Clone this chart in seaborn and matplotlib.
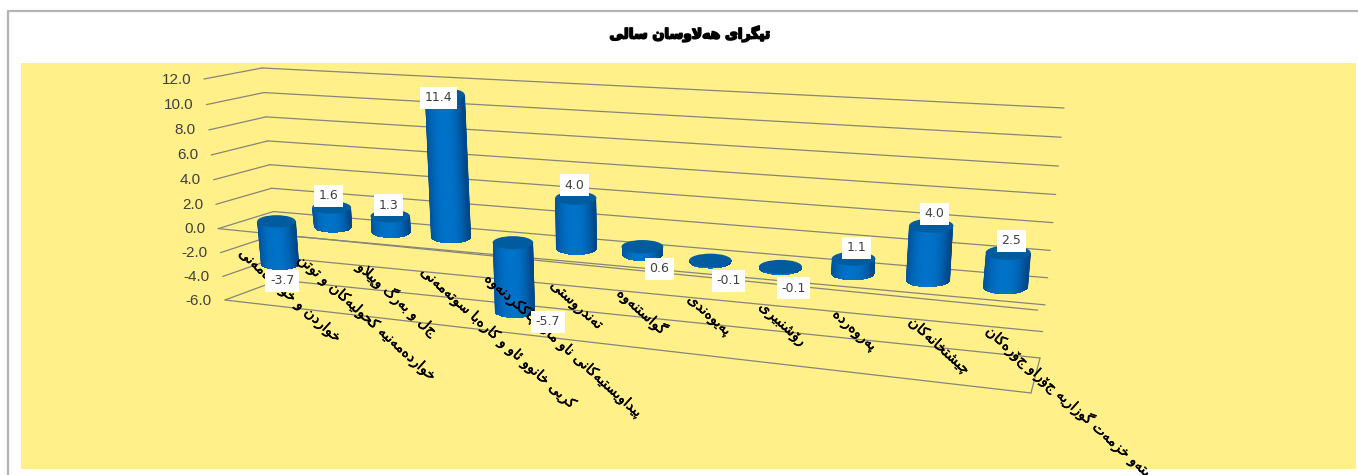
import numpy as np
import matplotlib
matplotlib.use('Agg')
import matplotlib.pyplot as plt
import matplotlib.patheffects as pe
import matplotlib.transforms as mtrans
from matplotlib.colors import LinearSegmentedColormap
from matplotlib.patches import Rectangle, Ellipse, Polygon
import seaborn as sns

categories = ['خواردن و خواردەمەنی', 'خواردەمەنیە کحولیەکان و توتن', 'جل و بەرگ وپێڵاو',
              'کرێی خانوو ئاو و کارەبا سوتەمەنی', 'پێداویستیەکانی ناو ماڵ چاککردنەوە', 'تەندروستی',
              'گواستنەوە', 'پەیوەندی', 'ڕۆشنبیری', 'پەروەردە', 'چێشتخانەکان',
              'بەستەو خزمەت گوزاریە جۆراو جۆرەکان']
values = [-3.7, 1.6, 1.3, 11.4, -5.7, 4.0, 0.6, -0.1, -0.1, 1.1, 4.0, 2.5]
ticks = [12, 10, 8, 6, 4, 2, 0, -2, -4, -6]
title = 'تێگرای هەڵاوسان ساڵی'

# ---- small arabic shaper, matplotlib does not join letters itself
# letter: (isolated, final, initial, medial), two forms only = right joining
FORMS = {
    'ا': (0xFE8D, 0xFE8E), 'د': (0xFEA9, 0xFEAA), 'ر': (0xFEAD, 0xFEAE), 'ڕ': (0xFEAD, 0xFEAE),
    'ز': (0xFEAF, 0xFEB0), 'ژ': (0xFB8A, 0xFB8B), 'و': (0xFEED, 0xFEEE), 'ۆ': (0xFBD9, 0xFBDA),
    'ە': (0xFEE9, 0xFEEA),
    'ئ': (0xFE89, 0xFE8A, 0xFE8B, 0xFE8C), 'ب': (0xFE8F, 0xFE90, 0xFE91, 0xFE92),
    'پ': (0xFB56, 0xFB57, 0xFB58, 0xFB59), 'ت': (0xFE95, 0xFE96, 0xFE97, 0xFE98),
    'چ': (0xFB7A, 0xFB7B, 0xFB7C, 0xFB7D), 'ح': (0xFEA1, 0xFEA2, 0xFEA3, 0xFEA4),
    'خ': (0xFEA5, 0xFEA6, 0xFEA7, 0xFEA8), 'س': (0xFEB1, 0xFEB2, 0xFEB3, 0xFEB4),
    'ش': (0xFEB5, 0xFEB6, 0xFEB7, 0xFEB8), 'ک': (0xFB8E, 0xFB8F, 0xFB90, 0xFB91),
    'گ': (0xFB92, 0xFB93, 0xFB94, 0xFB95), 'ل': (0xFEDD, 0xFEDE, 0xFEDF, 0xFEE0),
    'ڵ': (0xFEDD, 0xFEDE, 0xFEDF, 0xFEE0), 'م': (0xFEE1, 0xFEE2, 0xFEE3, 0xFEE4),
    'ن': (0xFEE5, 0xFEE6, 0xFEE7, 0xFEE8), 'ی': (0xFBFC, 0xFBFD, 0xFBFE, 0xFBFF),
    'ێ': (0xFBFC, 0xFBFD, 0xFBFE, 0xFBFF), 'ف': (0xFED1, 0xFED2, 0xFED3, 0xFED4),
    'ه': (0xFEE9, 0xFEEA, 0xFEEB, 0xFEEC),
}


def shape(txt):
    out = []
    k = 0
    while k < len(txt):
        c = txt[k]
        if c not in FORMS:
            out.append(c)
            k += 1
            continue
        f = FORMS[c]
        prev = txt[k - 1] if k > 0 else ' '
        nxt = txt[k + 1] if k < len(txt) - 1 else ' '
        joins_prev = prev in FORMS and len(FORMS[prev]) == 4
        joins_next = len(f) == 4 and nxt in FORMS
        if c in 'لڵ' and nxt == 'ا':
            # lam alef ligature
            out.append(chr(0xFEFC if joins_prev else 0xFEFB))
            k += 2
            continue
        if joins_prev and joins_next:
            out.append(chr(f[3]))
        elif joins_prev:
            out.append(chr(f[1]))
        elif joins_next:
            out.append(chr(f[2]))
        else:
            out.append(chr(f[0]))
        k += 1
    return ''.join(reversed(out))


# ---- perspective
class Persp(mtrans.Transform):
    input_dims = 2
    output_dims = 2

    def __init__(self, corners):
        # corners: pixel points for (x0,vlo) (x1,vlo) (x0,vhi) (x1,vhi)
        super().__init__()
        src = [(-0.5, -6), (11.5, -6), (-0.5, 12), (11.5, 12)]
        a, b = [], []
        for (x, y), (u, v) in zip(src, corners):
            a.append([x, y, 1, 0, 0, 0, -u * x, -u * y])
            a.append([0, 0, 0, x, y, 1, -v * x, -v * y])
            b += [u, v]
        self.h = np.append(np.linalg.solve(np.array(a, float), np.array(b, float)), 1).reshape(3, 3)

    def transform_non_affine(self, values):
        values = np.asarray(values, float)
        p = np.c_[values, np.ones(len(values))] @ self.h.T
        return p[:, :2] / p[:, 2:]

    def xy(self, x, v):
        return self.transform_non_affine([[x, v]])[0]


front = Persp([(225, 300), (1031, 393), (204, 79), (1052, 135)])
back = Persp([(279, 280), (1040, 358), (262, 68), (1064, 108)])
mid = Persp([(255, 287), (1038, 371.5), (236, 76), (1060.4, 119.5)])

sns.set_theme(style='white')
plt.rcParams['font.family'] = ['DejaVu Sans']
fig = plt.figure(figsize=(13.58, 4.75), dpi=100)
ax = fig.add_axes([0, 0, 1, 1])
sns.barplot(x=list(range(len(values))), y=values, color='#0070c0', width=0.5, ax=ax)
ax.set_xlim(-0.5, 11.5)
ax.set_ylim(-6, 12)
ax.set_axis_off()
bars = list(ax.containers[0])

# second axes in picture pixels, y going down, for the cylinders and texts
over = fig.add_axes([0, 0, 1, 1], facecolor='none')
over.set_xlim(0, 1358)
over.set_ylim(475, 0)
over.autoscale(False)
over.set_axis_off()
pix = over.transData
GRID = '#85857a'


def line(p, q, lw=0.9):
    ax.plot([p[0], q[0]], [p[1], q[1]], color=GRID, lw=lw, transform=pix, clip_on=False, zorder=2)


ax.add_patch(Rectangle((21, 63), 1335, 406, color='#fff08a', lw=0, transform=pix, zorder=0))
ax.plot([7.5, 7.5, 1358], [475, 10.5, 10.5], color='#b4b4b4', lw=1.6, transform=pix, clip_on=False, zorder=1)
over.text(690, 34, shape(title), fontsize=10, fontweight='bold', color='black', ha='center', va='center',
          path_effects=[pe.withStroke(linewidth=1.2, foreground='black')])

# walls and floor
for t in ticks:
    line(front.xy(-0.5, t), back.xy(-0.5, t))
    line(back.xy(-0.5, t), back.xy(11.5, t))
    p = front.xy(-0.5, t)
    over.text(p[0] - 13, p[1] + 0.5, f'{t:.1f}', fontsize=11, color='#404040', ha='right', va='center',
              family='Liberation Sans')
line(front.xy(-0.5, 0), front.xy(11.5, 0))
line(front.xy(-0.5, -6), front.xy(11.5, -6))
line(front.xy(11.5, -6), back.xy(11.5, -6))

# side of a cylinder, dark at both edges
side_cmap = LinearSegmentedColormap.from_list('side', ['#00488a', '#0072c8'])
ts = np.linspace(-1, 1, 60)
glow = np.clip(1 - np.abs(ts + 0.1) ** 2.4, 0, 1)

label_off = [(2, 17), (-3, -12), (-2, -11), (-6, 3), (33, 10), (-1, -13), (17, 22), (18, 19), (13, 20),
             (3, -11), (3, -12), (3, -12)]

for i, bar in enumerate(bars):
    y0, y1 = bar.get_y(), bar.get_y() + bar.get_height()
    val = y0 if abs(y0) > abs(y1) else y1
    hi, lo = max(val, 0), min(val, 0)
    cx = bar.get_x() + bar.get_width() / 2
    bar.set_transform(mid + pix)
    bar.set_clip_on(False)
    bar.set_zorder(3)
    top = mid.xy(cx, hi)
    bot = mid.xy(cx, lo)
    unit = abs(mid.xy(cx, 0)[1] - mid.xy(cx, 1)[1])
    rx = unit * 1.65
    ry = rx * 0.32

    an = np.linspace(0, np.pi, 40)
    outline = [(top[0] - rx, top[1]), (top[0] + rx, top[1])]
    outline += [(bot[0] + rx * np.cos(a), bot[1] + ry * np.sin(a)) for a in an]
    body = Polygon(outline, closed=True, transform=pix)

    gx = np.vstack([top[0] + rx * ts, bot[0] + rx * ts])
    gy = np.vstack([np.full_like(ts, top[1]), bot[1] + ry * np.sqrt(1 - ts ** 2) + 1])
    mesh = over.pcolormesh(gx, gy, np.vstack([glow, glow]), cmap=side_cmap, vmin=0, vmax=1, shading='gouraud',
                           zorder=3.2)
    mesh.set_clip_path(body)
    over.add_patch(Ellipse(top, 2 * rx, 2 * ry, fc='#005c9e', ec='none', zorder=3.5))

    end = top if val >= 0 else bot
    dx, dy = label_off[i]
    over.text(end[0] + dx, end[1] + dy, f'{val:.1f}', fontsize=9, color='#404040', ha='center', va='center',
              zorder=6, bbox=dict(fc='white', ec='none', pad=3.2))

# category labels run down to the right
for i, cat in enumerate(categories):
    p = front.xy(i, -1.2)
    over.text(p[0] - 3, p[1], shape(cat), fontsize=10.3, color='black', rotation=-42, rotation_mode='anchor',
              ha='left', va='top', zorder=5, path_effects=[pe.withStroke(linewidth=0.3, foreground='black')])

fig.savefig('out.png', dpi=100, facecolor='white')
